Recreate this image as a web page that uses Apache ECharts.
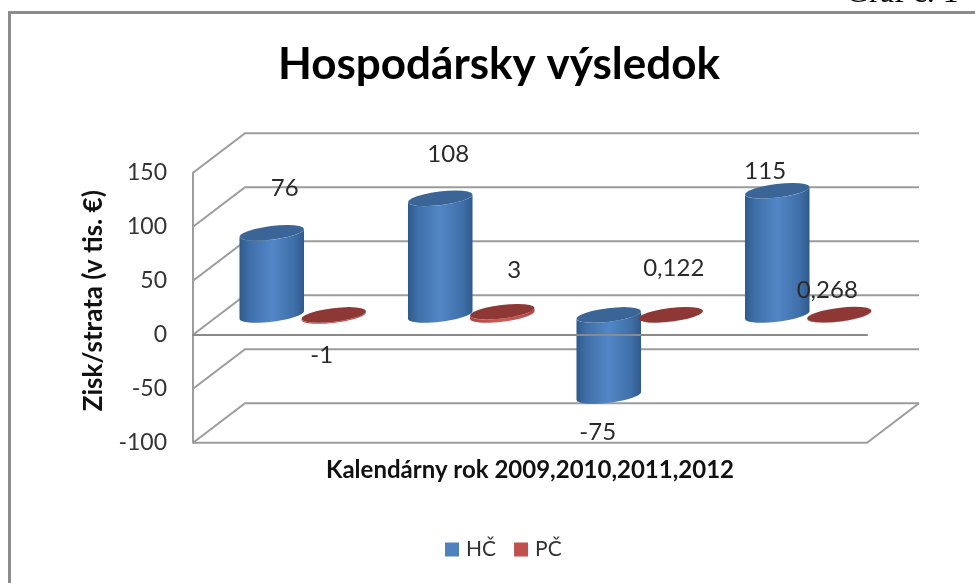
<!DOCTYPE html>
<html>
<head>
<meta charset="utf-8">
<title>Hospodársky výsledok</title>
<script src="https://cdn.jsdelivr.net/npm/echarts@6/dist/echarts.min.js"></script>
<style>
  html, body { margin: 0; padding: 0; background: #fff; overflow: hidden; }
  #chart { width: 975px; height: 583px; }
</style>
</head>
<body>
<div id="chart"></div>
<script>
const years = ['2009', '2010', '2011', '2012'];
const hcValues = [76, 108, -75, 115];
const pcValues = [-1, 3, 0.122, 0.268];
const yTicks = [-100, -50, 0, 50, 100, 150];

// hand placed data labels in the original, offset from the cylinder end
const hcLabelOffsets = [[13, -45], [8, -44], [-11, 36], [-12, -19]];
const pcLabelOffsets = [[-12, 39], [12, -41], [3, -47], [-12, -24]];

const depthX = 52;
const depthY = 39.5;
const gridColor = '#9c9c9c';
const textColor = '#2a2a2a';
const fontName = 'Lato, "Noto Sans", sans-serif';

function ellipsePoints(cx, cy, from, to) {
  const a = 32.5, b = 6.8, tilt = -7 * Math.PI / 180;
  const pts = [];
  for (let i = 0; i <= 24; i++) {
    const t = from + (to - from) * i / 24;
    const ex = a * Math.cos(t), ey = b * Math.sin(t);
    pts.push([
      cx + ex * Math.cos(tilt) - ey * Math.sin(tilt),
      cy + ex * Math.sin(tilt) + ey * Math.cos(tilt)
    ]);
  }
  return pts;
}

function cylinderRenderer(side, offsets, stops, topColor) {
  return function (params, api) {
    const i = api.value(0);
    const v = api.value(1);
    const end = api.coord([i, v]);
    const base = api.coord([i, 0]);
    const cx = end[0] + depthX / 2 + side;
    const endY = end[1] - depthY / 2;
    const baseY = base[1] - depthY / 2;
    const topY = Math.min(endY, baseY);
    const botY = Math.max(endY, baseY);
    // silhouette of the body: lower half of bottom ellipse + upper half of top one
    const t0 = Math.atan2(6.8 * Math.sin(7 * Math.PI / 180), 32.5 * Math.cos(7 * Math.PI / 180));
    const lower = ellipsePoints(cx, botY, t0, t0 + Math.PI);
    const upper = ellipsePoints(cx, topY, t0 + Math.PI, t0);
    const off = offsets[i];
    return {
      type: 'group',
      children: [{
        type: 'polygon',
        shape: { points: lower.concat(upper) },
        style: {
          fill: new echarts.graphic.LinearGradient(0, 0, 1, 0, stops)
        }
      }, {
        type: 'polygon',
        shape: { points: ellipsePoints(cx, topY, 0, Math.PI * 2) },
        style: { fill: topColor }
      }, {
        type: 'text',
        z2: 50,
        style: {
          text: String(v).replace('.', ','),
          x: cx + off[0],
          y: endY + off[1],
          align: 'center',
          verticalAlign: 'middle',
          fill: textColor,
          font: '24px ' + fontName
        }
      }]
    };
  };
}

function wallRenderer(params, api) {
  const v = api.value(1);
  const p = api.coord([0, v]);
  const box = params.coordSys;
  const lineStyle = { stroke: gridColor, lineWidth: 2, fill: 'none' };
  const children = [{
    type: 'polyline',
    shape: {
      points: [
        [box.x, p[1]],
        [box.x + depthX, p[1] - depthY],
        [box.x + depthX + box.width, p[1] - depthY]
      ]
    },
    style: lineStyle
  }];
  if (v === yTicks[0]) {
    children.push({
      type: 'polyline',
      shape: {
        points: [
          [box.x, p[1]],
          [box.x + box.width, p[1]],
          [box.x + box.width + depthX, p[1] - depthY]
        ]
      },
      style: lineStyle
    });
  }
  return { type: 'group', children: children };
}

const chart = echarts.init(document.getElementById('chart'), null, { renderer: 'canvas' });

chart.setOption({
  animation: false,
  backgroundColor: '#fff',
  title: [{
    text: 'Hospodársky výsledok',
    left: 494,
    top: 38,
    textAlign: 'center',
    textStyle: { fontFamily: fontName, fontSize: 44, fontWeight: 'bold', color: '#000' }
  }, {
    text: 'Graf č. 1',
    left: 841,
    top: -27,
    textStyle: { fontFamily: '"Liberation Serif", serif', fontSize: 32, fontWeight: 'normal', color: '#000' }
  }],
  legend: {
    left: 440,
    top: 534,
    itemWidth: 14,
    itemHeight: 14,
    itemGap: 18,
    textStyle: { fontFamily: fontName, fontSize: 21, color: '#333', padding: [0, 0, 0, 2] },
    data: [
      { name: 'HČ', icon: 'rect', itemStyle: { color: '#4f81bd' } },
      { name: 'PČ', icon: 'rect', itemStyle: { color: '#c0504d' } }
    ]
  },
  grid: { left: 193, right: 108, top: 172.7, bottom: 140.3, outerBoundsMode: 'none' },
  xAxis: {
    type: 'category',
    data: years,
    z: 5,
    name: 'Kalendárny rok 2009,2010,2011,2012',
    nameLocation: 'middle',
    nameGap: 16,
    nameTextStyle: { fontFamily: fontName, fontSize: 24, fontWeight: 'bold', color: '#111', padding: [0, 0, 0, 0] },
    axisLine: { onZero: true, lineStyle: { color: '#8a8a8a', width: 2 } },
    axisTick: { show: false },
    axisLabel: { show: false }
  },
  yAxis: {
    type: 'value',
    min: -100,
    max: 150,
    interval: 50,
    name: 'Zisk/strata (v tis. €)',
    nameLocation: 'middle',
    nameGap: 86,
    nameTextStyle: { fontFamily: fontName, fontSize: 26, fontWeight: 'bold', color: '#111', padding: [0, 0, 0, 14] },
    axisLine: { show: true, onZero: false, lineStyle: { color: gridColor, width: 2 } },
    axisTick: { show: false },
    splitLine: { show: false },
    axisLabel: { margin: 26, fontFamily: fontName, fontSize: 23, color: '#333' }
  },
  graphic: [{
    type: 'rect',
    silent: true,
    z: -10,
    shape: { x: 9.5, y: 12.5, width: 1000, height: 620 },
    style: { fill: 'none', stroke: '#8c8c8c', lineWidth: 3 }
  }],
  series: [{
    name: 'wall',
    type: 'custom',
    z: 1,
    silent: true,
    renderItem: wallRenderer,
    encode: { x: 0, y: 1 },
    data: yTicks.map(function (t) { return [0, t]; })
  }, {
    name: 'HČ',
    type: 'custom',
    z: 3,
    itemStyle: { color: '#4f81bd' },
    renderItem: cylinderRenderer(-31.5, hcLabelOffsets, [
      { offset: 0, color: '#2f5a8c' },
      { offset: 0.15, color: '#3f6fa8' },
      { offset: 0.5, color: '#5286c6' },
      { offset: 0.85, color: '#3f6fa8' },
      { offset: 1, color: '#2f5a8c' }
    ], '#3a6596'),
    encode: { x: 0, y: 1 },
    data: hcValues.map(function (v, i) { return [i, v]; })
  }, {
    name: 'PČ',
    type: 'custom',
    z: 4,
    itemStyle: { color: '#c0504d' },
    renderItem: cylinderRenderer(30.5, pcLabelOffsets, [
      { offset: 0, color: '#b04643' },
      { offset: 0.5, color: '#d05a56' },
      { offset: 1, color: '#b04643' }
    ], '#8e3836'),
    encode: { x: 0, y: 1 },
    data: pcValues.map(function (v, i) { return [i, v]; })
  }]
});
</script>
</body>
</html>
